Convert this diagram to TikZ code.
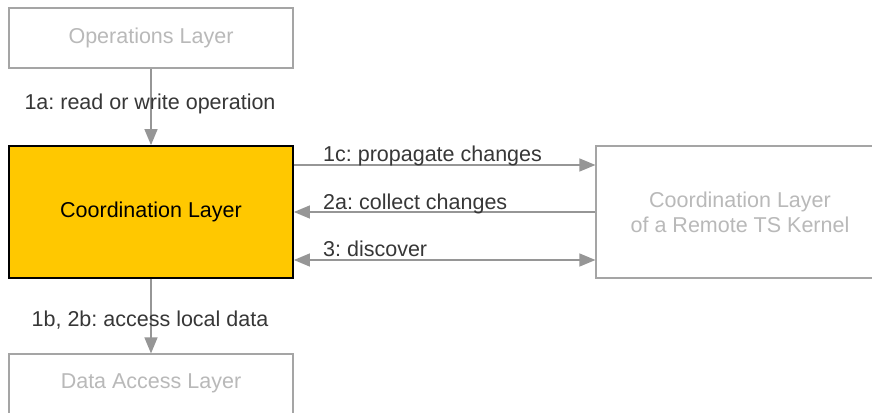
\documentclass[tikz,border=0pt]{standalone}
\usepackage{fontspec}
\setmainfont{Liberation Sans}
\usetikzlibrary{arrows.meta}
\definecolor{boxline}{RGB}{165,165,165}
\definecolor{boxtext}{RGB}{185,185,185}
\definecolor{arrowgray}{RGB}{150,150,150}
\definecolor{labeltext}{RGB}{55,55,55}
\definecolor{coordfill}{RGB}{255,200,0}
\frenchspacing
\tikzset{
  fnt/.style={font=\fontsize{21.5}{25}\selectfont},
  layerbox/.style={draw=boxline, line width=1.2pt, fill=white, text=boxtext, fnt, align=center, inner sep=0pt},
  mainbox/.style={draw=black, line width=1.8pt, fill=coordfill, text=black, fnt, align=center, inner sep=0pt},
  tip/.tip={Triangle[length=16pt,width=13pt]},
  conn/.style={draw=arrowgray, line width=1.4pt, -tip},
  dconn/.style={draw=arrowgray, line width=1.4pt, tip-tip},
  lbl/.style={text=labeltext, fnt, inner sep=0pt}
}
\begin{document}
\begin{tikzpicture}[x=1pt,y=-1pt]
\useasboundingbox (0,0) rectangle (872,412);
\clip (0,0) rectangle (872,412);
\fill[white] (0,0) rectangle (872,412);
\node[layerbox, minimum width=284pt, minimum height=60pt] (ops) at (151,38) {Operations Layer};
\node[mainbox, minimum width=284pt, minimum height=132pt] (coord) at (151,212) {Coordination Layer};
\node[layerbox, minimum width=284pt, minimum height=70pt] (data) at (151,389) {};
\node[text=boxtext, fnt, inner sep=0pt] (datalbl) at (151,383) {Data Access Layer};
\node[layerbox, minimum width=290pt, minimum height=132pt] (remote) at (741,212) {};
\node[text=boxtext, fnt, align=center, inner sep=0pt] (remotelbl) at (740,212) {Coordination Layer\\of a Remote TS Kernel};
% vertical arrows
\draw[conn] (ops.south) -- (coord.north);
\node[lbl] (l1a) at (150,104) {1a: read or write operation};
\draw[conn] (coord.south) -- (data.north);
\node[lbl] (l1b) at (150,320) {1b, 2b: access local data};
% horizontal arrows
\coordinate (c1s) at (coord.east |- 0,165);
\coordinate (c1e) at (remote.west |- 0,165);
\draw[conn] (c1s) -- (c1e);
\node[lbl, anchor=west] (l1c) at (323,156) {1c: propagate changes};
\coordinate (c2s) at (remote.west |- 0,212);
\coordinate (c2e) at (coord.east |- 0,212);
\draw[conn] (c2s) -- (c2e);
\node[lbl, anchor=west] (l2a) at (323,204) {2a: collect changes};
\coordinate (c3s) at (coord.east |- 0,260);
\coordinate (c3e) at (remote.west |- 0,260);
\draw[dconn] (c3s) -- (c3e);
\node[lbl, anchor=west] (l3) at (323,249) {3: discover};
\end{tikzpicture}
\end{document}
